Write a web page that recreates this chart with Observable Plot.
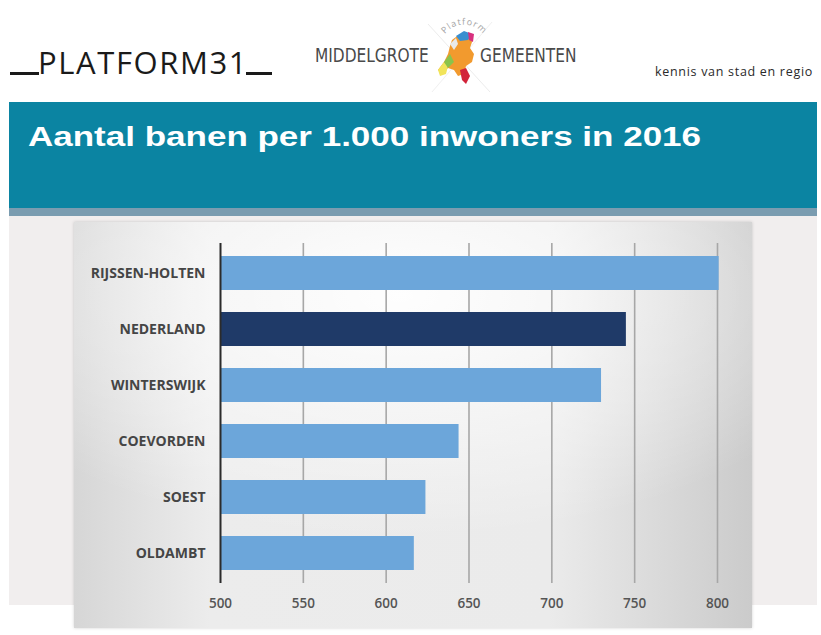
<!DOCTYPE html>
<html>
<head>
<meta charset="utf-8">
<script src="https://cdn.jsdelivr.net/npm/d3@7"></script>
<script src="https://cdn.jsdelivr.net/npm/@observablehq/plot@0.6"></script>
<style>
  html, body { margin: 0; padding: 0; background: #ffffff; }
  #page { position: relative; width: 821px; height: 635px; overflow: hidden; background: #fff; font-family: "Liberation Sans", Arial, sans-serif; }
  .abs { position: absolute; }
  #p31 { left: 38px; top: 44px; font-family: "Open Sans", sans-serif; font-weight: 400; font-size: 31px; line-height: 36px; letter-spacing: 1.6px; color: #1a1a1a; }
  .mg { font-family: "Liberation Sans Narrow", "DejaVu Sans Condensed", sans-serif; font-size: 19px; line-height: 22px; color: #4a4a4a; top: 44px; transform: scaleX(0.9); transform-origin: 0 0; }
  #kennis { left: 655px; top: 64px; font-family: "Open Sans", sans-serif; font-size: 12.5px; line-height: 16px; color: #2a2a2a; letter-spacing: 0.7px; white-space: nowrap; }
  #titlebar { left: 9px; top: 102px; width: 808px; height: 106px; background: #0b84a2; }
  #strip { left: 9px; top: 208px; width: 808px; height: 8px; background: #7a9cb0; }
  #lightbg { left: 9px; top: 216px; width: 808px; height: 389px; background: #f1eeee; }
  #title { left: 28px; top: 123px; font-family: "Liberation Sans", Arial, sans-serif; font-weight: bold; font-size: 28px; line-height: 28px; color: #fff; white-space: nowrap; transform: scaleX(1.25); transform-origin: 0 0; }
  #panel { left: 74px; top: 222px; width: 678px; height: 406px;
    background:
      radial-gradient(ellipse 70% 60% at 48% 18%, rgba(255,255,255,0.95) 0%, rgba(255,255,255,0) 100%),
      linear-gradient(to right, #d6d6d6 0%, #ececec 20%, #ebebeb 70%, #cbcbcb 100%);
    box-shadow: 0 0 3px rgba(0,0,0,0.18); }
  #chart { left: 74px; top: 222px; }
</style>
</head>
<body>
<div id="page">
  <div class="abs" id="p31">PLATFORM31</div>
  <div class="abs" style="left:10px; top:72px; width:29px; height:2.5px; background:#1a1a1a;"></div>
  <div class="abs" style="left:246px; top:72px; width:26px; height:2.5px; background:#1a1a1a;"></div>

  <div class="abs mg" style="left:315px;">MIDDELGROTE</div>
  <div class="abs mg" style="left:480px;">GEMEENTEN</div>
  <svg class="abs" style="left:420px; top:4px;" width="80" height="95" viewBox="0 0 80 95">
    <line x1="8" y1="20" x2="70" y2="88" stroke="#ececec" stroke-width="1"/>
    <line x1="72" y1="18" x2="12" y2="88" stroke="#f0f0f0" stroke-width="1"/>
    <defs><path id="arc" d="M 25 30 A 24 24 0 0 1 68 44"/></defs>
    <text font-family="Open Sans, sans-serif" font-size="9" fill="#a5a5a5" letter-spacing="1"><textPath href="#arc">Platform</textPath></text>
    <polygon points="32,36 40,30 50,30 52,38 50,44 54,50 52,58 46,62 44,70 38,72 34,66 28,64 22,70 18,66 24,58 28,50 30,42" fill="#f29a2e"/>
    <polygon points="36,32 44,27 52,30 48,36 40,37" fill="#3a8fd0"/>
    <polygon points="48,28 54,30 53,38 49,36" fill="#d8307e"/>
    <polygon points="30,40 36,34 38,40 34,46" fill="#e9e9e9"/>
    <polygon points="18,66 24,58 28,62 26,70 20,72" fill="#f1e45a"/>
    <polygon points="24,58 30,50 34,58 28,64" fill="#8bc34a"/>
    <polygon points="40,66 46,64 50,72 46,80 42,76" fill="#d2233a"/>
  </svg>
  <div class="abs" id="kennis">kennis van stad en regio</div>

  <div class="abs" id="titlebar"></div>
  <div class="abs" id="strip"></div>
  <div class="abs" id="lightbg"></div>
  <div class="abs" id="title">Aantal banen per 1.000 inwoners in 2016</div>
  <div class="abs" id="panel"></div>
  <div class="abs" id="chart"></div>
</div>
<script>
// ---- data ----
const categories = ["RIJSSEN-HOLTEN", "NEDERLAND", "WINTERSWIJK", "COEVORDEN", "SOEST", "OLDAMBT"];
const values = [801, 745, 730, 644, 624, 617];
const xTicks = [500, 550, 600, 650, 700, 750, 800];
const highlighted = ["NEDERLAND"];

// ---- styles ----
const lightBlue = "#6ca6da";
const darkBlue = "#1f3a68";
const axisStart = xTicks[0];

const data = categories.map((name, i) => ({name, value: values[i]}));

const chart = Plot.plot({
  width: 678,
  height: 406,
  marginLeft: 146,
  marginRight: 35,
  marginTop: 21,
  marginBottom: 45,
  style: {background: "transparent", fontFamily: "'Open Sans', sans-serif", overflow: "visible"},
  x: {domain: [xTicks[0], xTicks[xTicks.length - 1]], ticks: xTicks, label: null},
  y: {domain: categories, paddingInner: 0.4, paddingOuter: 0.2, label: null},
  marks: [
    Plot.gridX(xTicks.slice(1), {stroke: "#a7a7a7", strokeOpacity: 1, strokeWidth: 1.6}),
    Plot.barX(data, {
      y: "name",
      x1: () => axisStart,
      x2: "value",
      fill: d => highlighted.includes(d.name) ? darkBlue : lightBlue
    }),
    Plot.ruleX([axisStart], {stroke: "#2b2b2b", strokeWidth: 2}),
    Plot.axisY({tickSize: 0, tickPadding: 15, fontSize: 14, fontWeight: "bold", fill: "#454545", label: null}),
    Plot.axisX(xTicks, {tickSize: 0, tickPadding: 15, fontSize: 13.5, fontWeight: "600", fill: "#555", label: null, tickFormat: d => String(d)})
  ]
});
document.getElementById("chart").appendChild(chart);
</script>
</body>
</html>
